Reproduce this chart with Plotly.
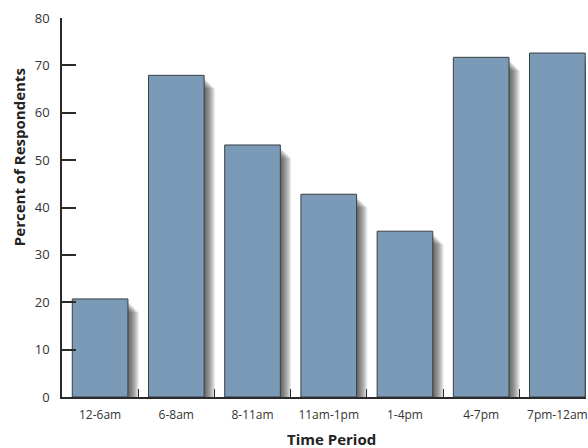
import plotly.graph_objects as go

# Survey results by time of day
periods = ["12-6am", "6-8am", "8-11am", "11am-1pm", "1-4pm", "4-7pm", "7pm-12am"]
percent = [20.7, 67.9, 53.2, 42.8, 35.0, 71.7, 72.6]
y_ticks = [0, 10, 20, 30, 40, 50, 60, 70, 80]

BAR_COLOR = "#7A9AB7"
EDGE = "#3a3f45"
AXIS = "#2a2a2a"
FONT = "Open Sans"

x_pos = list(range(len(periods)))
bar_w = 0.73
px_per_unit = 76.5  # horizontal pixels per category

fig = go.Figure()

# soft drop shadow: stacked translucent copies shifted right/down
for k in range(1, 10):
    dx = k * 1.2 / px_per_unit
    dy = k * 0.25
    fig.add_trace(go.Bar(
        x=x_pos,
        y=[max(v - dy - 0.5, 0) for v in percent],
        width=bar_w,
        offset=-bar_w / 2 + dx,
        marker=dict(color="rgba(20,20,20,0.10)", line=dict(width=0)),
        hoverinfo="skip",
        showlegend=False,
    ))

fig.add_trace(go.Bar(
    x=x_pos,
    y=percent,
    width=bar_w,
    offset=-bar_w / 2,
    marker=dict(color=BAR_COLOR, line=dict(color=EDGE, width=1)),
    showlegend=False,
))

# helper trace so the boundary-tick axis is drawn
fig.add_trace(go.Scatter(x=[0], y=[0], xaxis="x2", mode="markers",
                         marker=dict(opacity=0), hoverinfo="skip", showlegend=False))

x_range = [-0.5, -0.5 + 526 / px_per_unit]

fig.update_layout(
    width=588,
    height=448,
    margin=dict(l=62, r=0, t=18, b=51),
    plot_bgcolor="white",
    paper_bgcolor="white",
    barmode="overlay",
    font=dict(family=FONT, size=12, color=AXIS),
    xaxis=dict(
        range=x_range,
        tickvals=x_pos,
        ticktext=periods,
        ticks="",
        ticklabeloverflow="allow",
        ticklabelstandoff=6,
        showline=True,
        linecolor=AXIS,
        linewidth=1.5,
        showgrid=False,
        zeroline=False,
        tickfont=dict(size=12, color="#333333"),
    ),
    xaxis2=dict(
        range=x_range,
        overlaying="x",
        anchor="y",
        side="bottom",
        tickvals=[i + 0.5 for i in x_pos[:-1]],
        ticks="inside",
        ticklen=8,
        tickwidth=1.2,
        tickcolor=AXIS,
        showticklabels=False,
        showgrid=False,
        zeroline=False,
        showline=False,
    ),
    yaxis=dict(
        range=[0, 80],
        tickvals=y_ticks,
        ticks="inside",
        ticklen=14,
        tickwidth=1.5,
        tickcolor=AXIS,
        ticklabelstandoff=8,
        showline=True,
        linecolor=AXIS,
        linewidth=1.5,
        showgrid=False,
        zeroline=False,
        tickfont=dict(size=13, color="#333333"),
    ),
    annotations=[
        dict(text="<b>Time Period</b>", xref="paper", yref="paper",
             x=0.515, y=-0.112, xanchor="center", yanchor="middle",
             showarrow=False, font=dict(size=15, color="#222222")),
        dict(text="<b>Percent of Respondents</b>", xref="paper", yref="paper",
             x=-0.082, y=0.633, xanchor="center", yanchor="middle",
             textangle=-90, showarrow=False, font=dict(size=15, color="#222222")),
    ],
)

fig.write_html("out.html")
